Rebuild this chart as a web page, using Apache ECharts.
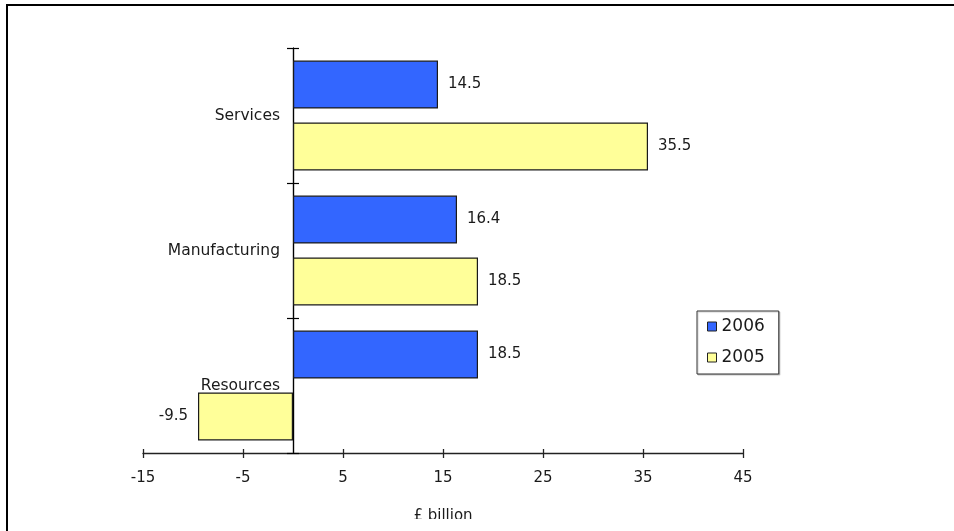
<!DOCTYPE html>
<html>
<head>
<meta charset="utf-8">
<script src="https://cdn.jsdelivr.net/npm/echarts@6/dist/echarts.min.js"></script>
<style>html,body{margin:0;padding:0;background:#fff}#chart{width:954px;height:531px}</style>
</head>
<body>
<div id="chart"></div>
<script>
// Data (category order bottom-to-top as drawn on the category axis)
const categories = ['Resources', 'Manufacturing', 'Services'];
const values2006 = [18.5, 16.4, 14.5];
const values2005 = [-9.5, 18.5, 35.5];
const seriesNames = ['2006', '2005'];
const xTicks = { min: -15, max: 45, interval: 10 };
const xName = '£ billion';

const FONT = 'DejaVu Sans';
const mk = arr => arr.map(v => v < 0 ? { value: v, label: { position: 'left' } } : v);
const labelCfg = { show: true, position: 'right', distance: 10, fontSize: 15, fontFamily: FONT, color: '#1a1a1a', formatter: '{c}' };

const chart = echarts.init(document.getElementById('chart'), null, { renderer: 'canvas' });
chart.setOption({
  animation: false,
  backgroundColor: '#fff',
  grid: { left: 143, right: 211, top: 48, bottom: 78, containLabel: false },
  xAxis: [
    {
      type: 'value', min: xTicks.min, max: xTicks.max, interval: xTicks.interval, position: 'bottom',
      splitLine: { show: false },
      axisLine: { show: true, onZero: false, lineStyle: { color: '#222', width: 1.3 } },
      axisTick: { show: true, inside: false, length: 5, lineStyle: { color: '#222', width: 1.3 } },
      axisLabel: { margin: 18, fontSize: 15, fontFamily: FONT, color: '#1a1a1a' },
      name: xName, nameLocation: 'middle', nameGap: 56,
      nameTextStyle: { fontSize: 15, fontFamily: FONT, color: '#1a1a1a' }
    },
    {
      type: 'value', min: xTicks.min, max: xTicks.max, interval: xTicks.interval, position: 'bottom', offset: -4,
      splitLine: { show: false },
      axisLine: { show: false, onZero: false },
      axisTick: { show: true, inside: false, length: 4, lineStyle: { color: '#222', width: 1.3 } },
      axisLabel: { show: false }
    }
  ],
  yAxis: [
    {
      type: 'category', data: categories, position: 'left',
      axisLine: { show: true, onZero: true, lineStyle: { color: '#000', width: 1.2 } },
      axisTick: { show: true, inside: false, length: 6, lineStyle: { color: '#000', width: 1.2 } },
      axisLabel: { margin: -137, fontSize: 15.5, fontFamily: FONT, color: '#1a1a1a' },
      splitLine: { show: false }
    },
    {
      type: 'category', data: categories, position: 'left',
      axisLine: { show: true, onZero: true, lineStyle: { color: '#000', width: 1.2 } },
      axisTick: { show: true, inside: true, length: 6, lineStyle: { color: '#000', width: 1.2 } },
      axisLabel: { show: false },
      splitLine: { show: false }
    }
  ],
  legend: {
    data: seriesNames, orient: 'vertical', left: 697, top: 311,
    padding: [7, 14, 8, 10], itemGap: 14, itemWidth: 9, itemHeight: 9, icon: 'rect',
    borderColor: '#333', borderWidth: 1, backgroundColor: '#fff',
    shadowColor: 'rgba(0,0,0,0.2)', shadowOffsetX: 1, shadowOffsetY: 1, shadowBlur: 1,
    textStyle: { fontSize: 17, fontFamily: FONT, color: '#1a1a1a' },
    itemStyle: { borderColor: '#222', borderWidth: 1 }
  },
  series: [
    {
      name: seriesNames[0], type: 'bar', xAxisIndex: 0, yAxisIndex: 0,
      data: mk(values2006), barWidth: 48, barGap: '29%',
      itemStyle: { color: '#3366FF', borderColor: '#1a1a1a', borderWidth: 1.2 },
      label: labelCfg
    },
    {
      name: seriesNames[1], type: 'bar', xAxisIndex: 0, yAxisIndex: 0,
      data: mk(values2005), barWidth: 48, barGap: '29%',
      itemStyle: { color: '#FFFF99', borderColor: '#1a1a1a', borderWidth: 1.2 },
      label: labelCfg
    }
  ],
  graphic: [
    { type: 'rect', z: 100, silent: true, shape: { x: 9, y: 519, width: 945, height: 12 }, style: { fill: '#fff' } },
    { type: 'line', z: 101, silent: true, shape: { x1: 6, y1: 5, x2: 954, y2: 5 }, style: { stroke: '#000', lineWidth: 2 } },
    { type: 'line', z: 101, silent: true, shape: { x1: 7, y1: 4, x2: 7, y2: 531 }, style: { stroke: '#000', lineWidth: 2 } }
  ]
});
</script>
</body>
</html>
